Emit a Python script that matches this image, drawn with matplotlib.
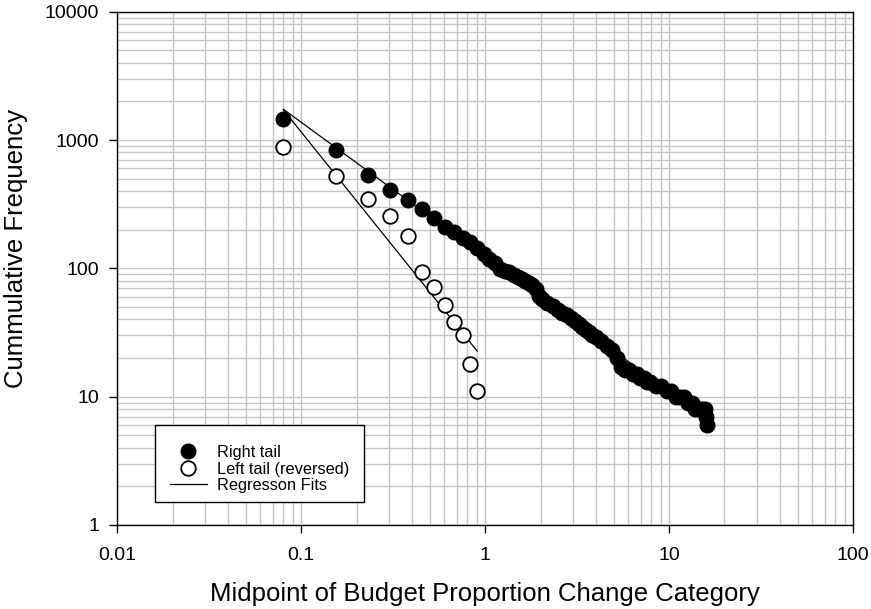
import numpy as np
import matplotlib
matplotlib.use('Agg')
import matplotlib.pyplot as plt
from matplotlib.patches import Rectangle
from matplotlib.ticker import FixedLocator, LogLocator, NullFormatter


# Category midpoints and cumulative frequencies, right tail
right_x = [0.08, 0.155, 0.23, 0.305, 0.38, 0.455, 0.53, 0.605, 0.68, 0.755,
           0.83, 0.905, 0.98, 1.055, 1.13, 1.205, 1.28, 1.355, 1.43, 1.505,
           1.58, 1.655, 1.73, 1.805, 1.88, 1.955, 2.03,
           2.18, 2.33, 2.48, 2.63, 2.78, 2.93, 3.08, 3.23, 3.38, 3.53, 3.68,
           3.83, 3.98,
           4.28, 4.58, 4.88, 5.18, 5.48, 5.78, 6.08, 6.38, 6.68, 6.98, 7.28,
           7.58, 7.88,
           8.48, 9.08, 9.68, 10.28, 10.88, 11.48, 12.08, 12.68, 13.28, 13.88,
           14.48, 15.08, 15.68, 15.83, 15.98]
right_y = [1450, 830, 535, 410, 340, 288, 248, 211, 191, 173,
           161, 143, 129, 119, 110, 99, 96, 93, 89, 85,
           82, 80, 77, 74, 69, 61, 58,
           54, 51, 47, 45, 43, 41, 39, 37, 35, 33, 32,
           30, 29,
           27, 25, 23, 20, 17, 16, 16, 15, 15, 14, 14,
           13, 13,
           12, 12, 11, 11, 10, 10, 10, 9, 9, 8,
           8, 8, 8, 7, 6]

# Left tail, reversed
left_x = [0.08, 0.155, 0.23, 0.305, 0.38, 0.455, 0.53, 0.605, 0.68, 0.755,
          0.83, 0.905]
left_y = [880, 525, 350, 254, 180, 94, 72, 52, 38, 30, 18, 11]

x_ticks = [0.01, 0.1, 1, 10, 100]
x_tick_labels = ['0.01', '0.1', '1', '10', '100']
y_ticks = [1, 10, 100, 1000, 10000]
y_tick_labels = ['1', '10', '100', '1000', '10000']


def power_fit(x, y):
    # least squares line in log-log space
    slope, intercept = np.polyfit(np.log10(x), np.log10(y), 1)
    xs = np.array([min(x), max(x)])
    return xs, 10 ** (intercept + slope * np.log10(xs))


plt.rcParams['font.family'] = ['Liberation Sans', 'DejaVu Sans']

fig = plt.figure(figsize=(8.71, 6.09), dpi=100)
ax = fig.add_axes([0.1347, 0.138, 0.8447, 0.8428])

ax.set_xscale('log')
ax.set_yscale('log')
ax.set_xlim(0.01, 100)
ax.set_ylim(1, 10000)

# grid on every decade subdivision
ax.xaxis.set_major_locator(FixedLocator(x_ticks))
ax.yaxis.set_major_locator(FixedLocator(y_ticks))
ax.xaxis.set_minor_locator(LogLocator(base=10, subs=np.arange(2, 10)))
ax.yaxis.set_minor_locator(LogLocator(base=10, subs=np.arange(2, 10)))
ax.xaxis.set_minor_formatter(NullFormatter())
ax.yaxis.set_minor_formatter(NullFormatter())
ax.set_xticklabels(x_tick_labels)
ax.set_yticklabels(y_tick_labels)
ax.grid(True, which='both', color='#c4c4c4', linewidth=1.0)
ax.set_axisbelow(True)

ax.tick_params(which='major', direction='out', length=6, width=1,
               labelsize=14)
ax.tick_params(axis='x', pad=10)
ax.tick_params(axis='y', pad=7)
ax.tick_params(which='minor', length=0)
for s in ax.spines.values():
    s.set_linewidth(1.0)
    s.set_color('black')

# regression lines first so the markers sit on top
fx, fy = power_fit(right_x, right_y)
ax.plot(fx, fy, color='black', linewidth=0.9, zorder=3)
fx, fy = power_fit(left_x, left_y)
ax.plot(fx, fy, color='black', linewidth=0.9, zorder=3,
        label='Regresson Fits')

ax.plot(right_x, right_y, 'o', color='black', markersize=10.5,
        markeredgewidth=1, zorder=4, label='Right tail')
ax.plot(left_x, left_y, 'o', markerfacecolor='white', markeredgecolor='black',
        markersize=10.5, markeredgewidth=1.3, zorder=4,
        label='Left tail (reversed)')

# legend box drawn separately, entries sit in its lower part
ax.add_patch(Rectangle((0.0512, 0.0448), 0.284, 0.150, transform=ax.transAxes,
                       facecolor='white', edgecolor='black', linewidth=1.0,
                       zorder=5))
handles, labels = ax.get_legend_handles_labels()
order = [1, 2, 0]
leg = ax.legend([handles[i] for i in order], [labels[i] for i in order],
                loc='center left', bbox_to_anchor=(0.0716, 0.109),
                fontsize=11.8, frameon=False, borderpad=0,
                handlelength=2.25, handletextpad=0.6,
                labelspacing=0.08, borderaxespad=0)
leg.set_zorder(6)

ax.set_xlabel('Midpoint of Budget Proportion Change Category', fontsize=18.5)
ax.xaxis.set_label_coords(0.5, -0.111)
ax.set_ylabel('Cummulative Frequency', fontsize=18.5)
ax.yaxis.set_label_coords(-0.122, 0.538)

fig.savefig('out.png', dpi=100)
